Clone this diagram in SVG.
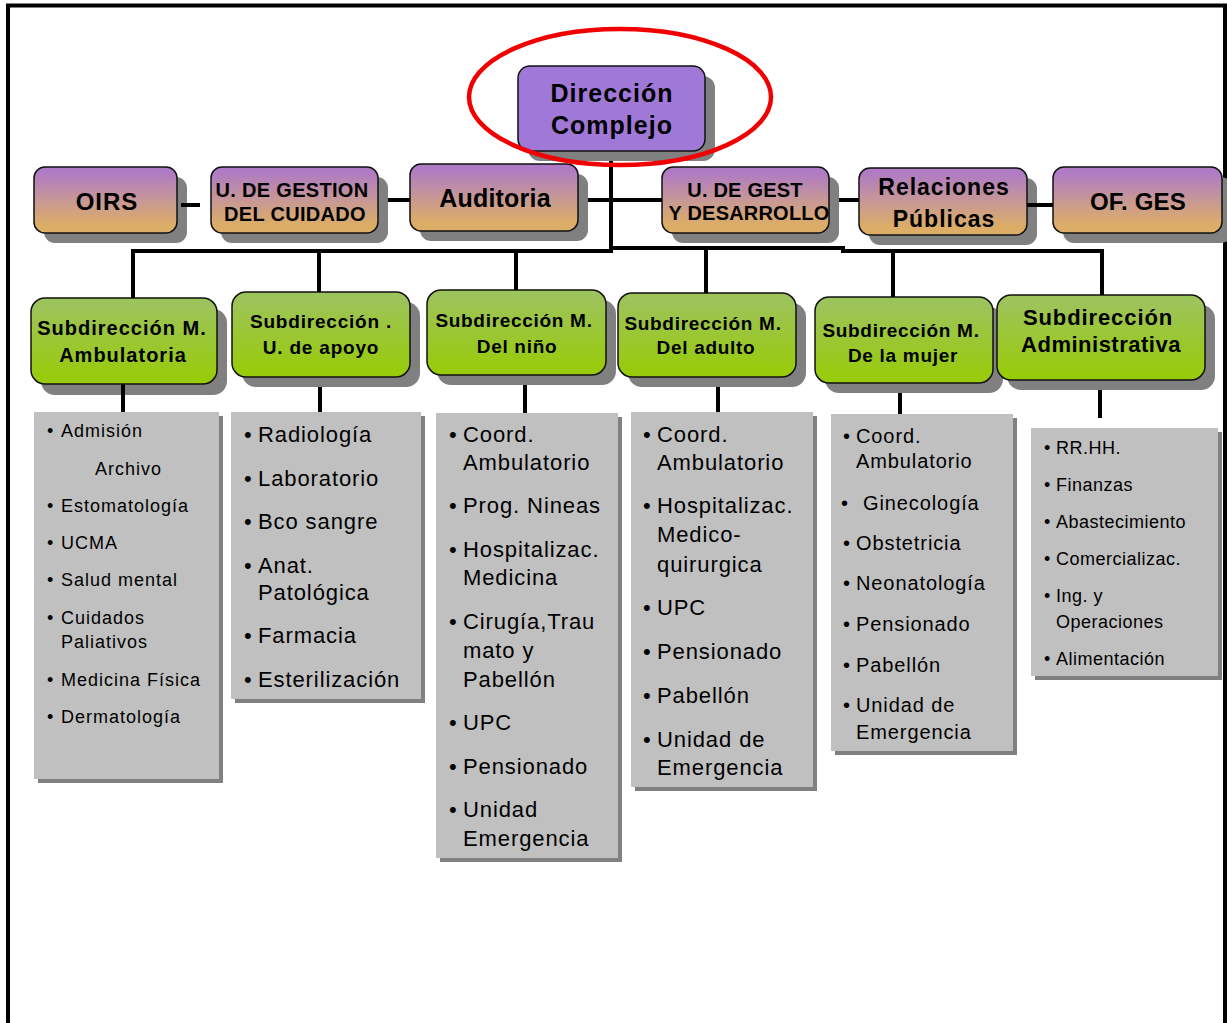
<svg xmlns="http://www.w3.org/2000/svg" width="1227" height="1023" viewBox="0 0 1227 1023">
<defs>
<linearGradient id="gPO" x1="0" y1="0" x2="0" y2="1">
<stop offset="0.08" stop-color="#AF7BC4"/>
<stop offset="0.5" stop-color="#C79896"/>
<stop offset="0.88" stop-color="#DCAD66"/>
</linearGradient>
<linearGradient id="gG" x1="0" y1="0" x2="0" y2="1">
<stop offset="0.08" stop-color="#9DC35B"/>
<stop offset="0.92" stop-color="#98CB0C"/>
</linearGradient>
<style>
.sh{fill:#808080}
.top{fill:#A078D8;stroke:#111;stroke-width:1.5}
.po{fill:url(#gPO);stroke:#111;stroke-width:1.5}
.gr{fill:url(#gG);stroke:#111;stroke-width:1.5}
.lst{fill:#C0C0C0}
.b{font-family:"Liberation Sans",Arial,sans-serif;font-weight:bold;fill:#000;text-anchor:middle}
.l{font-family:"Liberation Sans",Arial,sans-serif;fill:#000}
.ln{stroke:#000;stroke-width:4;fill:none}
</style>
</defs>
<rect x="0" y="0" width="1227" height="1023" fill="#fff"/>
<rect x="8" y="5.5" width="1217" height="1040" fill="none" stroke="#000" stroke-width="4"/>

<g id="n-direccion">
<rect class="sh" x="528" y="76" width="187" height="85" rx="12"/>
<rect class="top" x="518" y="66" width="187" height="85" rx="12"/>
<text class="b" font-size="25" letter-spacing="1" x="612" y="102">Dirección</text>
<text class="b" font-size="25" letter-spacing="1" x="612" y="134">Complejo</text>
</g>

<g id="n-oirs">
<rect class="sh" x="44" y="177" width="143" height="66" rx="11"/>
<rect class="po" x="34" y="167" width="143" height="66" rx="11"/>
<text class="b" font-size="24" letter-spacing="1" x="107" y="210">OIRS</text>
</g>
<g id="n-ugc">
<rect class="sh" x="221" y="177" width="167" height="66" rx="11"/>
<rect class="po" x="211" y="167" width="167" height="66" rx="11"/>
<text class="b" font-size="20" letter-spacing="0.3" x="292" y="197">U. DE GESTION</text>
<text class="b" font-size="20" letter-spacing="0.3" x="295" y="221">DEL CUIDADO</text>
</g>
<g id="n-auditoria">
<rect class="sh" x="420" y="174" width="168" height="67" rx="11"/>
<rect class="po" x="410" y="164" width="168" height="67" rx="11"/>
<text class="b" font-size="25" letter-spacing="0.2" x="495" y="207">Auditoria</text>
</g>
<g id="n-ugd">
<rect class="sh" x="672" y="177" width="167" height="66" rx="11"/>
<rect class="po" x="662" y="167" width="167" height="66" rx="11"/>
<text class="b" font-size="20" letter-spacing="0.2" x="745" y="197">U. DE GEST</text>
<text class="b" font-size="20" letter-spacing="0.2" x="749" y="220">Y DESARROLLO</text>
</g>
<g id="n-rrpp">
<rect class="sh" x="869" y="178" width="168" height="67" rx="11"/>
<rect class="po" x="859" y="168" width="168" height="67" rx="11"/>
<text class="b" font-size="23" letter-spacing="1" x="944" y="195">Relaciones</text>
<text class="b" font-size="23" letter-spacing="1" x="944" y="227">Públicas</text>
</g>
<g id="n-ofges">
<rect class="sh" x="1063" y="177" width="169" height="66" rx="11"/>
<rect class="po" x="1053" y="167" width="169" height="66" rx="11"/>
<text class="b" font-size="24" letter-spacing="0.2" x="1138" y="210">OF. GES</text>
</g>

<g id="n-sub-ambulatoria">
<rect class="sh" x="41" y="309" width="186" height="86" rx="14"/>
<rect class="gr" x="31" y="298" width="186" height="86" rx="14"/>
<text class="b" font-size="20" letter-spacing="1" x="122" y="335">Subdirección M.</text>
<text class="b" font-size="20" letter-spacing="1" x="123" y="362">Ambulatoria</text>
</g>
<g id="n-sub-apoyo">
<rect class="sh" x="242" y="302" width="178" height="85" rx="14"/>
<rect class="gr" x="232" y="292" width="178" height="85" rx="14"/>
<text class="b" font-size="19" letter-spacing="0.8" x="321" y="328">Subdirección .</text>
<text class="b" font-size="19" letter-spacing="0.8" x="321" y="354">U. de apoyo</text>
</g>
<g id="n-sub-nino">
<rect class="sh" x="437" y="300" width="179" height="85" rx="14"/>
<rect class="gr" x="427" y="290" width="179" height="85" rx="14"/>
<text class="b" font-size="19" letter-spacing="0.7" x="514" y="327">Subdirección M.</text>
<text class="b" font-size="19" letter-spacing="0.7" x="517" y="353">Del niño</text>
</g>
<g id="n-sub-adulto">
<rect class="sh" x="628" y="303" width="178" height="84" rx="14"/>
<rect class="gr" x="618" y="293" width="178" height="84" rx="14"/>
<text class="b" font-size="19" letter-spacing="0.7" x="703" y="330">Subdirección M.</text>
<text class="b" font-size="19" letter-spacing="0.7" x="706" y="354">Del adulto</text>
</g>
<g id="n-sub-mujer">
<rect class="sh" x="825" y="307" width="178" height="86" rx="14"/>
<rect class="gr" x="815" y="297" width="178" height="86" rx="14"/>
<text class="b" font-size="19" letter-spacing="0.7" x="901" y="337">Subdirección M.</text>
<text class="b" font-size="19" letter-spacing="0.7" x="903" y="362">De la mujer</text>
</g>
<g id="n-sub-admin">
<rect class="sh" x="1007" y="305" width="208" height="85" rx="14"/>
<rect class="gr" x="997" y="295" width="208" height="85" rx="14"/>
<text class="b" font-size="22" letter-spacing="0.9" x="1098" y="325">Subdirección</text>
<text class="b" font-size="22" letter-spacing="0.5" x="1101" y="352">Administrativa</text>
</g>

<g id="n-list-ambulatoria" class="l" font-size="18" letter-spacing="1">
<rect class="sh" x="38" y="416" width="185" height="367"/>
<rect class="lst" x="34" y="412" width="185" height="367"/>
<text y="437"><tspan x="47">•</tspan><tspan x="61">Admisión</tspan></text>
<text x="95" y="475">Archivo</text>
<text y="512"><tspan x="47">•</tspan><tspan x="61">Estomatología</tspan></text>
<text y="549"><tspan x="47">•</tspan><tspan x="61">UCMA</tspan></text>
<text y="586"><tspan x="47">•</tspan><tspan x="61">Salud mental</tspan></text>
<text y="624"><tspan x="47">•</tspan><tspan x="61">Cuidados</tspan></text>
<text x="61" y="648">Paliativos</text>
<text y="686"><tspan x="47">•</tspan><tspan x="61">Medicina Física</tspan></text>
<text y="723"><tspan x="47">•</tspan><tspan x="61">Dermatología</tspan></text>
</g>
<g id="n-list-apoyo" class="l" font-size="22" letter-spacing="0.9">
<rect class="sh" x="235" y="416" width="190" height="287"/>
<rect class="lst" x="231" y="412" width="190" height="287"/>
<text y="442"><tspan x="244">•</tspan><tspan x="258">Radiología</tspan></text>
<text y="486"><tspan x="244">•</tspan><tspan x="258">Laboratorio</tspan></text>
<text y="529"><tspan x="244">•</tspan><tspan x="258">Bco sangre</tspan></text>
<text y="573"><tspan x="244">•</tspan><tspan x="258">Anat.</tspan></text>
<text x="258" y="600">Patológica</text>
<text y="643"><tspan x="244">•</tspan><tspan x="258">Farmacia</tspan></text>
<text y="687"><tspan x="244">•</tspan><tspan x="258">Esterilización</tspan></text>
</g>
<g id="n-list-nino" class="l" font-size="22" letter-spacing="0.9">
<rect class="sh" x="440" y="417" width="182" height="445"/>
<rect class="lst" x="436" y="413" width="182" height="445"/>
<text y="442"><tspan x="449">•</tspan><tspan x="463">Coord.</tspan></text>
<text x="463" y="470">Ambulatorio</text>
<text y="513"><tspan x="449">•</tspan><tspan x="463">Prog. Nineas</tspan></text>
<text y="557"><tspan x="449">•</tspan><tspan x="463">Hospitalizac.</tspan></text>
<text x="463" y="585">Medicina</text>
<text y="629"><tspan x="449">•</tspan><tspan x="463">Cirugía,Trau</tspan></text>
<text x="463" y="658">mato y</text>
<text x="463" y="687">Pabellón</text>
<text y="730"><tspan x="449">•</tspan><tspan x="463">UPC</tspan></text>
<text y="774"><tspan x="449">•</tspan><tspan x="463">Pensionado</tspan></text>
<text y="817"><tspan x="449">•</tspan><tspan x="463">Unidad</tspan></text>
<text x="463" y="846">Emergencia</text>
</g>
<g id="n-list-adulto" class="l" font-size="22" letter-spacing="0.9">
<rect class="sh" x="635" y="416" width="182" height="375"/>
<rect class="lst" x="631" y="412" width="182" height="375"/>
<text y="442"><tspan x="643">•</tspan><tspan x="657">Coord.</tspan></text>
<text x="657" y="470">Ambulatorio</text>
<text y="513"><tspan x="643">•</tspan><tspan x="657">Hospitalizac.</tspan></text>
<text x="657" y="542">Medico-</text>
<text x="657" y="572">quirurgica</text>
<text y="615"><tspan x="643">•</tspan><tspan x="657">UPC</tspan></text>
<text y="659"><tspan x="643">•</tspan><tspan x="657">Pensionado</tspan></text>
<text y="703"><tspan x="643">•</tspan><tspan x="657">Pabellón</tspan></text>
<text y="747"><tspan x="643">•</tspan><tspan x="657">Unidad de</tspan></text>
<text x="657" y="775">Emergencia</text>
</g>
<g id="n-list-mujer" class="l" font-size="20" letter-spacing="0.9">
<rect class="sh" x="835" y="418" width="182" height="337"/>
<rect class="lst" x="831" y="414" width="182" height="337"/>
<text y="443"><tspan x="843">•</tspan><tspan x="856">Coord.</tspan></text>
<text x="856" y="468">Ambulatorio</text>
<text y="510"><tspan x="841">•</tspan><tspan x="863">Ginecología</tspan></text>
<text y="550"><tspan x="843">•</tspan><tspan x="856">Obstetricia</tspan></text>
<text y="590"><tspan x="843">•</tspan><tspan x="856">Neonatología</tspan></text>
<text y="631"><tspan x="843">•</tspan><tspan x="856">Pensionado</tspan></text>
<text y="672"><tspan x="843">•</tspan><tspan x="856">Pabellón</tspan></text>
<text y="712"><tspan x="843">•</tspan><tspan x="856">Unidad de</tspan></text>
<text x="856" y="739">Emergencia</text>
</g>
<g id="n-list-admin" class="l" font-size="18" letter-spacing="0.5">
<rect class="sh" x="1035" y="432" width="187" height="248"/>
<rect class="lst" x="1031" y="428" width="187" height="248"/>
<text y="454"><tspan x="1044">•</tspan><tspan x="1056">RR.HH.</tspan></text>
<text y="491"><tspan x="1044">•</tspan><tspan x="1056">Finanzas</tspan></text>
<text y="528"><tspan x="1044">•</tspan><tspan x="1056">Abastecimiento</tspan></text>
<text y="565"><tspan x="1044">•</tspan><tspan x="1056">Comercializac.</tspan></text>
<text y="602"><tspan x="1044">•</tspan><tspan x="1056">Ing. y</tspan></text>
<text x="1056" y="628">Operaciones</text>
<text y="665"><tspan x="1044">•</tspan><tspan x="1056">Alimentación</tspan></text>
</g>

<g id="connectors" class="ln">
<path d="M611 161 V250"/>
<path d="M133 251 H613"/>
<path d="M609 248 H843 V251 H1104"/>
<path d="M133 249 V298"/>
<path d="M319 249 V292"/>
<path d="M516 249 V290"/>
<path d="M706 248 V293"/>
<path d="M893 249 V297"/>
<path d="M1102 249 V295"/>
<path d="M181 205 H200"/>
<path d="M388 200 H410"/>
<path d="M588 200 H662"/>
<path d="M839 200 H859"/>
<path d="M1027 205 H1053"/>
<path d="M123 384 V412"/>
<path d="M320 387 V412"/>
<path d="M525 385 V413"/>
<path d="M718 387 V412"/>
<path d="M900 393 V414"/>
<path d="M1100 390 V418"/>
</g>
<ellipse cx="620" cy="97" rx="151" ry="68" fill="none" stroke="#F00000" stroke-width="4.5"/>
</svg>
